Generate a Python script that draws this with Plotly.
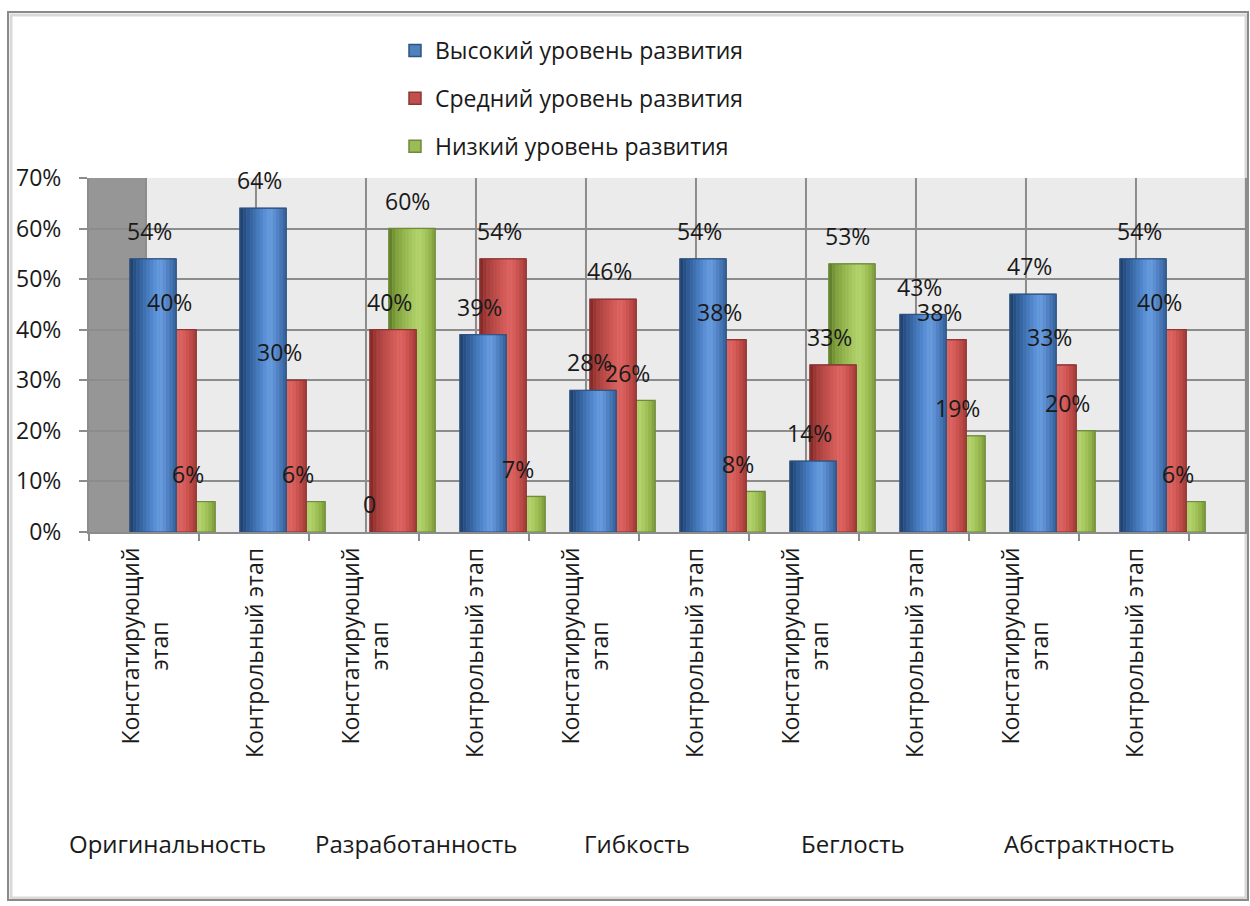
import plotly.graph_objects as go

# ---------------- data ----------------
stages = ["Констатирующий<br>этап", "Контрольный этап"] * 5
groups = ["Оригинальность", "Разработанность", "Гибкость", "Беглость", "Абстрактность"]
series_names = ["Высокий уровень развития", "Средний уровень развития", "Низкий уровень развития"]
high = [54, 64, 0, 39, 28, 54, 14, 43, 47, 54]
mid = [40, 30, 40, 54, 46, 38, 33, 38, 33, 40]
low = [6, 6, 60, 7, 26, 8, 53, 19, 20, 6]
y_tick_values = [0, 10, 20, 30, 40, 50, 60, 70]
y_tick_labels = ["0%", "10%", "20%", "30%", "40%", "50%", "60%", "70%"]

# ---------------- layout geometry (pixels) ----------------
W, H = 1250, 906
L, R, T, B = 89, 1248, 178, 532
CW = 110.0                      # category width in px
YMAX = 0.70
x_lo = -0.5
x_hi = -0.5 + (R - L) / CW

def px_x(px):       # pixel -> paper x
    return (px - L) / (R - L)

def px_y(py):       # pixel -> paper y
    return (B - py) / (B - T)

FONT = "Open Sans"
TXT = "#1a1a1a"

bar_w = 46 / CW
offsets = [-0.127, 0.055, 0.227]          # left edge of each series bar rel. to category centre
label_shift_px = (-4, 28)

profiles = [
    [(0.0, "#1f3d66"), (0.15, "#2d5890"), (0.45, "#4e84cb"), (0.65, "#6a9fe3"), (0.85, "#4e7ebf"), (1.0, "#33609a")],
    [(0.0, "#7c2623"), (0.15, "#a63f3c"), (0.45, "#cc5653"), (0.65, "#e06764"), (0.85, "#c8514e"), (1.0, "#a23c39")],
    [(0.0, "#5c7727"), (0.15, "#80a03e"), (0.45, "#a2c35b"), (0.65, "#b6d670"), (0.85, "#9ebe54"), (1.0, "#7e9b3b")],
]
base_colors = ["#4F81BD", "#C0504D", "#9BBB59"]
edge_colors = ["#2f5480", "#8c3533", "#6e8a3a"]


def hex2rgb(h):
    h = h.lstrip("#")
    return tuple(int(h[i:i + 2], 16) for i in (0, 2, 4))


def interp(profile, t):
    for (t0, c0), (t1, c1) in zip(profile[:-1], profile[1:]):
        if t0 <= t <= t1:
            a = (t - t0) / (t1 - t0) if t1 > t0 else 0
            r0, g0, b0 = hex2rgb(c0)
            r1, g1, b1 = hex2rgb(c1)
            return "rgb(%d,%d,%d)" % (r0 + (r1 - r0) * a, g0 + (g1 - g0) * a, b0 + (b1 - b0) * a)
    return profile[-1][1]


values = [high, mid, low]
xs = list(range(len(stages)))
N_STRIPS = 14

fig = go.Figure()

# draw back series first (green), then red, then blue in front
for s in [2, 1, 0]:
    vals = [v / 100 for v in values[s]]
    grp = "g%d" % s
    line_w = [1.5 if v > 0 else 0 for v in values[s]]
    # base bar (legend entry)
    fig.add_trace(go.Bar(
        x=xs, y=vals, width=bar_w, offset=offsets[s],
        name=series_names[s], legendgroup=grp, showlegend=True, legendrank=s + 1,
        marker=dict(color=base_colors[s], line=dict(color=edge_colors[s], width=line_w)),
        hoverinfo="skip",
    ))
    # cylinder-like shading strips
    sw = bar_w / N_STRIPS
    for j in range(N_STRIPS):
        t = (j + 0.5) / N_STRIPS
        fig.add_trace(go.Bar(
            x=xs, y=vals, width=sw * 1.02, offset=offsets[s] + j * sw,
            legendgroup=grp, showlegend=False, legendrank=s + 1,
            marker=dict(color=interp(profiles[s], t), line=dict(width=0)),
            hoverinfo="skip",
        ))
    # outline
    fig.add_trace(go.Bar(
        x=xs, y=vals, width=bar_w, offset=offsets[s],
        legendgroup=grp, showlegend=False, legendrank=s + 1,
        marker=dict(color="rgba(0,0,0,0)",
                    line=dict(color=edge_colors[s], width=[1 if v > 0 else 0 for v in values[s]])),
        hoverinfo="skip",
    ))

annotations = []
# value labels
for s in range(3):
    for i, v in enumerate(values[s]):
        annotations.append(dict(
            x=i + offsets[s] + bar_w / 2, y=v / 100, xref="x", yref="y",
            text=("%d%%" % v) if v else "0", showarrow=False,
            xshift=label_shift_px[0], yshift=label_shift_px[1],
            xanchor="center", yanchor="middle",
            font=dict(family=FONT, size=23, color=TXT),
        ))
# stage labels (rotated)
for i, st in enumerate(stages):
    annotations.append(dict(
        x=i, y=0, xref="x", yref="y", text=st, showarrow=False,
        textangle=-90, xanchor="center", yanchor="top", yshift=-14, align="center",
        font=dict(family=FONT, size=23, color=TXT),
    ))
# group labels
group_shift = [-32, -3, -2, -6, 10]
for g, name in enumerate(groups):
    annotations.append(dict(
        x=2 * g + 0.5, y=px_y(843), xref="x", yref="paper", text=name, showarrow=False,
        xanchor="center", yanchor="middle", xshift=group_shift[g],
        font=dict(family=FONT, size=24, color=TXT),
    ))

shapes = []
# side wall
shapes.append(dict(type="rect", xref="x", yref="y", x0=x_lo, x1=0.018, y0=0, y1=YMAX,
                   fillcolor="#969696", line=dict(width=0), layer="below"))
# vertical grid lines of the back wall
for k in range(len(stages) + 1):
    shapes.append(dict(type="line", xref="x", yref="y", x0=k + 0.018, x1=k + 0.018, y0=0, y1=YMAX,
                       line=dict(color="#8c8c8c", width=2), layer="below"))
# outer chart frame with soft shadow
shapes.append(dict(type="rect", xref="paper", yref="paper",
                   x0=px_x(11), x1=px_x(1246), y0=px_y(898), y1=px_y(15),
                   line=dict(color="#d9d9d9", width=3), fillcolor="rgba(0,0,0,0)", layer="below"))
shapes.append(dict(type="rect", xref="paper", yref="paper",
                   x0=px_x(8), x1=px_x(1248), y0=px_y(900), y1=px_y(12),
                   line=dict(color="#8a8a8a", width=2), fillcolor="rgba(0,0,0,0)", layer="below"))

fig.update_layout(
    width=W, height=H,
    margin=dict(l=L, r=W - R, t=T, b=H - B, pad=0),
    paper_bgcolor="white", plot_bgcolor="#EBEBEB",
    barmode="overlay",
    font=dict(family=FONT, size=20, color=TXT),
    showlegend=True,
    legend=dict(
        x=px_x(395), y=px_y(29), xanchor="left", yanchor="top",
        traceorder="grouped", tracegroupgap=15,
        font=dict(family=FONT, size=23, color=TXT),
        bgcolor="rgba(0,0,0,0)", itemclick=False, itemdoubleclick=False,
    ),
    xaxis=dict(
        range=[x_lo, x_hi], tickmode="array",
        tickvals=[k - 0.5 for k in range(len(stages) + 1)],
        ticks="outside", ticklen=7, tickwidth=2, tickcolor="#8c8c8c",
        showticklabels=False, showgrid=False, zeroline=False,
        showline=True, linecolor="#8c8c8c", linewidth=2, fixedrange=True,
    ),
    yaxis=dict(
        range=[0, YMAX], tickmode="array",
        tickvals=[v / 100 for v in y_tick_values], ticktext=y_tick_labels,
        ticks="outside", ticklen=8, tickwidth=2, tickcolor="#8c8c8c",
        showgrid=True, gridcolor="#8c8c8c", gridwidth=2, zeroline=False,
        showline=True, linecolor="#8c8c8c", linewidth=2,
        ticklabelstandoff=13, tickfont=dict(family=FONT, size=23, color=TXT),
        fixedrange=True,
    ),
    annotations=annotations,
    shapes=shapes,
)

fig.write_html(
    "out.html",
    config={"displayModeBar": False, "staticPlot": True},
    post_script="document.body.style.margin='0px';document.body.style.overflow='hidden';",
)
